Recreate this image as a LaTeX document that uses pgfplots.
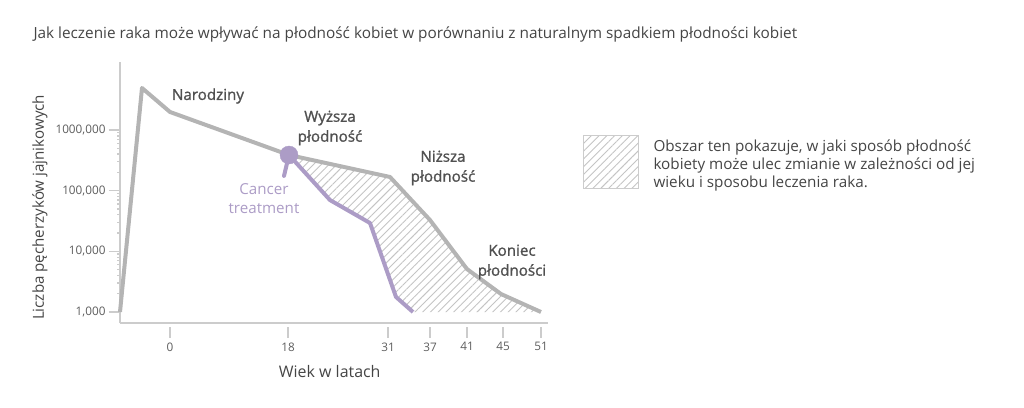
\documentclass[border=0pt]{standalone}
\usepackage{pgfplots}
\pgfplotsset{compat=1.18}
\usepackage{fontspec}
\setmainfont{Open Sans}
\newfontfamily\semib[FakeBold=1.2]{Open Sans}
\usetikzlibrary{patterns.meta}

\definecolor{txt}{HTML}{454545}
\definecolor{anntxt}{HTML}{505050}
\definecolor{ticktxt}{HTML}{5E5E5E}
\definecolor{natural}{HTML}{B4B4B4}
\definecolor{treat}{HTML}{AC9CC6}
\definecolor{spine}{HTML}{CCCCCC}
\definecolor{hatch}{HTML}{C4C4C4}

\begin{document}
\begin{tikzpicture}
\path[use as bounding box] (0bp,0bp) rectangle (1024bp,-408bp);
\begin{axis}[
    scale only axis,
    width=428bp, height=261bp,
    at={(120bp,-323bp)}, anchor=south west,
    xmin=120, xmax=548,
    ymode=log, ymin=659, ymax=1.32e7,
    clip=false,
    axis lines*=left,
    axis line style={spine, line width=1.3bp},
    tick style={spine, line width=1.3bp},
    every x tick/.append style={yshift=-4bp},
    tick align=outside,
    major tick length=11bp,
    minor tick num=0,
    xtick={170,288,388,430,467,503,541},
    xticklabels={0,18,31,37,41,45,51},
    ytick={1000,10000,100000,1000000},
    yticklabels={{1,000},{10,000},{100,000},{1000,000}},
    ticklabel style={font=\fontsize{11.8}{13}\selectfont, text=ticktxt},
    xticklabel style={yshift=-5bp},
    xlabel={Wiek w latach},
    xlabel style={at={(rel axis cs:0.49,-0.184)}, anchor=center,
        font=\fontsize{16}{18}\selectfont, text=txt},
    ylabel={Liczba pęcherzyków jajnikowych},
    ylabel style={at={(rel axis cs:-0.187,0.443)}, anchor=center,
        font=\fontsize{15.2}{18}\selectfont, text=txt},
]
% area between natural decline and decline after treatment
\addplot[draw=none, pattern={Lines[angle=45,distance=5.5bp,line width=0.9bp]},
    pattern color=hatch] coordinates {
    (289,3.87e5) (390,1.68e5) (430,3.28e4) (467,5.1e3) (501,1.98e3) (541,1000)
    (413,1000) (396,1.77e3) (370,2.93e4) (330,7.0e4)
} -- cycle;

% natural decline
\addplot[natural, line width=4bp, line join=round] coordinates {
    (120,1000) (142,4.92e6) (170,1.98e6) (289,3.87e5) (390,1.68e5)
    (430,3.28e4) (467,5.1e3) (501,1.98e3) (541,1000)
};

% after cancer treatment
\addplot[treat, line width=4bp, line join=round] coordinates {
    (289,3.87e5) (330,7.0e4) (370,2.93e4) (396,1.77e3) (413,1000)
};
\addplot[treat, line width=4bp, line cap=round] coordinates {
    (289,3.87e5) (284,1.75e5)
};
\addplot[treat, only marks, mark=*, mark size=9bp] coordinates {(289,3.87e5)};
\end{axis}

\node[anchor=west, font=\fontsize{15.4}{18}\selectfont, text=txt] at (30bp,-34bp)
    {Jak leczenie raka może wpływać na płodność kobiet w porównaniu z naturalnym spadkiem płodności kobiet};

\begin{scope}[every node/.style={align=center, text=anntxt, font=\semib\fontsize{15.2}{20}\selectfont}]
\node at (208bp,-96bp) {Narodziny};
\node at (330bp,-128bp) {Wyższa\\płodność};
\node at (443bp,-168bp) {Niższa\\płodność};
\node at (512bp,-262bp) {Koniec\\płodności};
\end{scope}
\node[align=center, text=treat, font=\fontsize{15.2}{19}\selectfont] at (264bp,-199bp) {Cancer\\treatment};

% legend
\draw[spine, line width=1bp, pattern={Lines[angle=45,distance=5.5bp,line width=0.9bp]},
    pattern color=hatch] (583bp,-135bp) rectangle (638bp,-188bp);
\node[anchor=north west, align=left, text=txt, font=\fontsize{15.3}{18}\selectfont]
    at (650bp,-136bp)
    {Obszar ten pokazuje, w jaki sposób płodność\\kobiety może ulec zmianie w zależności od jej\\wieku i sposobu leczenia raka.};
\end{tikzpicture}
\end{document}
